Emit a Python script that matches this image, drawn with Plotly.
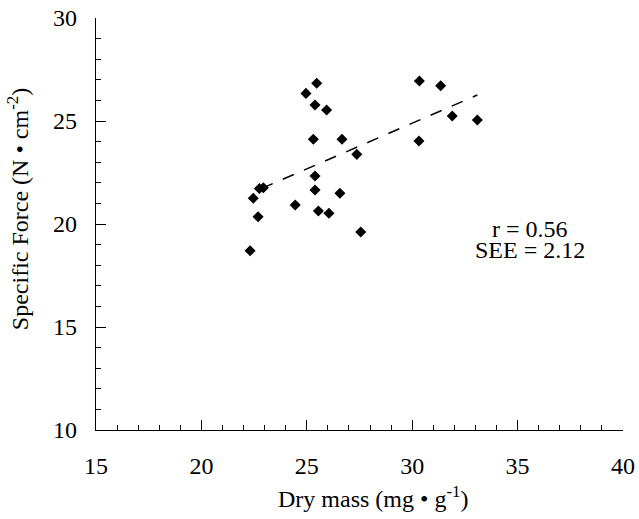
import plotly.graph_objects as go

dry_mass = [25.47, 24.96, 25.39, 25.94, 30.34, 31.35, 31.90, 33.09, 25.31, 26.67,
            30.32, 27.37, 25.39, 22.94, 22.75, 22.46, 25.39, 26.57, 24.45, 22.69,
            25.55, 26.05, 27.56, 22.31]
specific_force = [26.83, 26.34, 25.78, 25.53, 26.94, 26.71, 25.24, 25.05, 24.11, 24.11,
                  24.03, 23.38, 22.33, 21.76, 21.72, 21.25, 21.65, 21.49, 20.92, 20.35,
                  20.63, 20.52, 19.61, 18.70]
fit_x = [22.86, 33.09]
fit_y = [21.73, 26.26]
x_ticks = [15, 20, 25, 30, 35, 40]
y_ticks = [10, 15, 20, 25, 30]
stats_text = ["r = 0.56", "SEE = 2.12"]

FONT = "Liberation Serif"

fig = go.Figure()
fig.add_trace(go.Scatter(x=fit_x, y=fit_y, mode="lines",
                         line=dict(color="black", width=1.5, dash="12px,11px"),
                         showlegend=False, hoverinfo="skip"))
fig.add_trace(go.Scatter(x=dry_mass, y=specific_force, mode="markers",
                         marker=dict(symbol="diamond", size=8.5, color="black"),
                         showlegend=False))

fig.add_annotation(x=35.6, y=19.78, xref="x", yref="y", text=stats_text[0],
                   showarrow=False, font=dict(family=FONT, size=24, color="black"),
                   xanchor="center", yanchor="middle")
fig.add_annotation(x=35.6, y=18.72, xref="x", yref="y", text=stats_text[1],
                   showarrow=False, font=dict(family=FONT, size=24, color="black"),
                   xanchor="center", yanchor="middle")

# axis titles as annotations (positioned like the reference)
fig.add_annotation(x=0.526, y=-0.163, xref="paper", yref="paper",
                   text="Dry mass (mg \u2022 g<sup>-1</sup>)", showarrow=False,
                   font=dict(family=FONT, size=24, color="black"),
                   xanchor="center", yanchor="middle")
fig.add_annotation(x=-0.148, y=0.536, xref="paper", yref="paper",
                   text="Specific Force (N \u2022 cm<sup>-2</sup>)", showarrow=False,
                   textangle=-90, font=dict(family=FONT, size=24, color="black"),
                   xanchor="center", yanchor="middle")

fig.update_layout(
    width=639, height=519, autosize=False,
    margin=dict(l=96, r=16, t=18, b=89),
    paper_bgcolor="white", plot_bgcolor="white",
    font=dict(family=FONT, size=24, color="black"),
)
fig.update_xaxes(range=[15, 40], tickvals=x_ticks, ticktext=[str(v) for v in x_ticks],
                 showgrid=False, zeroline=False, showline=True, linecolor="black", linewidth=1.2,
                 ticks="inside", ticklen=10, tickwidth=1.2, tickcolor="black",
                 minor=dict(ticks="inside", dtick=1, ticklen=5, tickwidth=1, tickcolor="black", showgrid=False),
                 ticklabelstandoff=14, ticklabeloverflow="allow", automargin=False)
fig.update_yaxes(range=[10, 30], tickvals=y_ticks, ticktext=[str(v) for v in y_ticks],
                 showgrid=False, zeroline=False, showline=True, linecolor="black", linewidth=1.2,
                 ticks="inside", ticklen=10, tickwidth=1.2, tickcolor="black",
                 minor=dict(ticks="inside", dtick=1, ticklen=5, tickwidth=1, tickcolor="black", showgrid=False),
                 ticklabelstandoff=13, ticklabeloverflow="allow", automargin=False)

fig.write_html("out.html", config={"displayModeBar": False},
               post_script="document.body.style.margin='0';")
